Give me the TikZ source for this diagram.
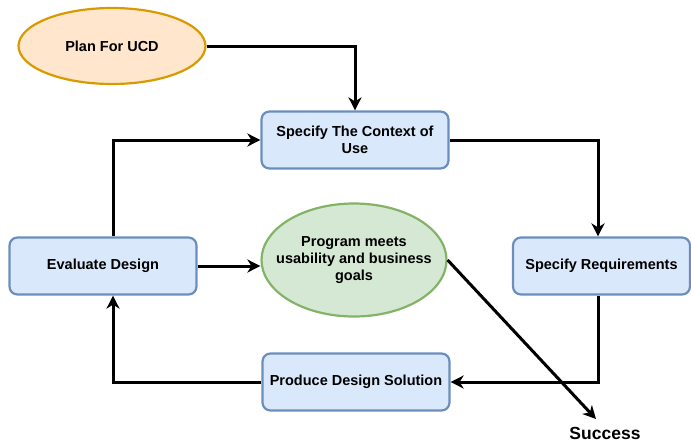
\documentclass[tikz,border=0pt]{standalone}
\usepackage{fontspec}
\setmainfont{Liberation Sans}
\usetikzlibrary{shapes.geometric,arrows.meta}
\definecolor{bluefill}{HTML}{DAE8FC}
\definecolor{blueline}{HTML}{6C8EBF}
\definecolor{greenfill}{HTML}{D5E8D4}
\definecolor{greenline}{HTML}{82B366}
\definecolor{orangefill}{HTML}{FFE6CC}
\definecolor{orangeline}{HTML}{D79B00}
\begin{document}
\begin{tikzpicture}[x=1pt,y=-1pt]
	\tikzset{stage/.style={draw=blueline,fill=bluefill,line width=2.2pt,rounded corners=8pt,
			minimum width=187pt,minimum height=57pt,inner sep=0pt,align=center,
			font=\fontsize{14.5}{17}\selectfont\bfseries}}
	\tikzset{goal/.style={ellipse,line width=2.2pt,inner xsep=-18pt,inner ysep=0pt,align=center,
			font=\fontsize{14.5}{17}\selectfont\bfseries}}
	\tikzset{flow/.style={line width=3pt,-{Stealth[length=13pt,width=13pt,inset=4pt]}}}
	\useasboundingbox (0,0) rectangle (691,445);
	\node[goal,draw=orangeline,fill=orangefill,minimum width=187pt,minimum height=76pt] (plan) at (112,46) {Plan For UCD};
	\node[stage] (context) at (355,140) {Specify The Context of\\Use};
	\node[stage] (evaluate) at (103,266) {Evaluate Design};
	\node[goal,draw=greenline,fill=greenfill,minimum width=185pt,minimum height=113pt] (meets) at (354,260) {Program meets\\usability and business\\goals};
	\node[stage,minimum width=177pt] (require) at (601.5,266) {Specify Requirements};
	\node[stage] (produce) at (356,382) {Produce Design Solution};
	\node[font=\fontsize{17.5}{20}\selectfont\bfseries] (success) at (605,433) {Success};
	% connectors
	\draw[flow] (plan.east) -| (context.north);
	\draw[flow] (context.east) -| (require.north -| 598,0);
	\draw[flow] (require.south -| 598,0) |- (produce.east);
	\draw[flow] (produce.west) -| (evaluate.south -| 113,0);
	\draw[flow] (evaluate.north -| 113,0) |- (context.west);
	\draw[flow] (evaluate.east) -- (meets.west |- evaluate.east);
	\draw[flow] (meets.east) -- (596,419);
\end{tikzpicture}
\end{document}
